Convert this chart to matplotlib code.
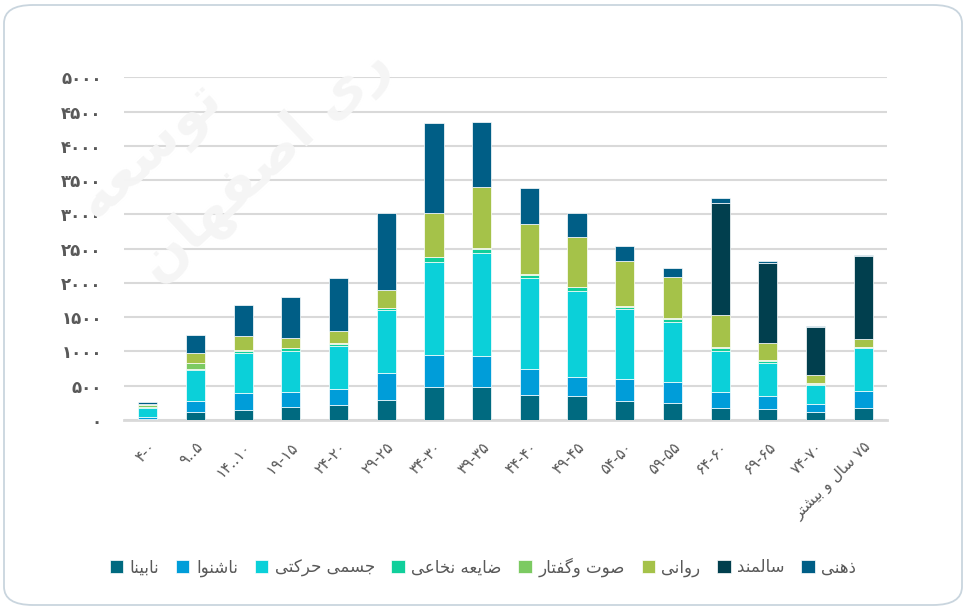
#!/usr/bin/env python3
# stacked bars of disability counts by age group

import re
import numpy as np
import matplotlib
matplotlib.use("Agg")
import matplotlib.pyplot as plt
from matplotlib.patches import FancyBboxPatch

ages = ["۴-۰", "۹..۵", "۱۴..۱۰", "۱۹-۱۵", "۲۴-۲۰", "۲۹-۲۵", "۳۴-۳۰", "۳۹-۳۵",
        "۴۴-۴۰", "۴۹-۴۵", "۵۴-۵۰", "۵۹-۵۵", "۶۴-۶۰", "۶۹-۶۵", "۷۴-۷۰",
        "۷۵ سال و بیشتر"]

nabina = [15, 122, 146, 195, 214, 292, 477, 477, 365, 350, 282, 243, 180, 165, 122, 170]
nashenva = [30, 160, 243, 219, 238, 399, 472, 457, 375, 282, 311, 307, 234, 190, 107, 248]
jesmi = [130, 448, 584, 594, 628, 915, 1349, 1508, 1328, 1255, 1022, 886, 599, 472, 282, 637]
nokhaei = [20, 10, 39, 39, 34, 24, 78, 58, 49, 49, 39, 44, 44, 39, 19, 10]
sot = [20, 97, 8, 6, 6, 5, 6, 6, 6, 5, 5, 5, 5, 5, 4, 4]
ravani = [20, 146, 204, 146, 185, 268, 633, 890, 740, 725, 667, 599, 477, 248, 127, 107]
salmand = [0, 0, 0, 0, 0, 0, 0, 0, 0, 0, 0, 0, 1630, 1168, 696, 1212]
zehni = [25, 254, 453, 589, 764, 1110, 1324, 949, 526, 355, 219, 127, 68, 39, 15, 19]

series = ["نابینا", "ناشنوا", "جسمی حرکتی", "ضایعه نخاعی", "صوت وگفتار", "روانی", "سالمند", "ذهنی"]
values = [nabina, nashenva, jesmi, nokhaei, sot, ravani, salmand, zehni]
colors = ["#006A80", "#009DD9", "#0BD0D9", "#10CF9B", "#7CCA62", "#A5C249", "#013F4E", "#005E86"]

# arabic presentation forms: isolated, final, initial, medial
FORMS = {
    "ا": "\uFE8D\uFE8E", "ب": "\uFE8F\uFE90\uFE91\uFE92", "ت": "\uFE95\uFE96\uFE97\uFE98",
    "ج": "\uFE9D\uFE9E\uFE9F\uFEA0", "ح": "\uFEA1\uFEA2\uFEA3\uFEA4", "خ": "\uFEA5\uFEA6\uFEA7\uFEA8",
    "د": "\uFEA9\uFEAA", "ذ": "\uFEAB\uFEAC", "ر": "\uFEAD\uFEAE",
    "س": "\uFEB1\uFEB2\uFEB3\uFEB4", "ش": "\uFEB5\uFEB6\uFEB7\uFEB8", "ص": "\uFEB9\uFEBA\uFEBB\uFEBC",
    "ض": "\uFEBD\uFEBE\uFEBF\uFEC0", "ع": "\uFEC9\uFECA\uFECB\uFECC", "ف": "\uFED1\uFED2\uFED3\uFED4",
    "ل": "\uFEDD\uFEDE\uFEDF\uFEE0", "م": "\uFEE1\uFEE2\uFEE3\uFEE4", "ن": "\uFEE5\uFEE6\uFEE7\uFEE8",
    "ه": "\uFEE9\uFEEA\uFEEB\uFEEC", "و": "\uFEED\uFEEE", "ی": "\uFBFC\uFBFD\uFBFE\uFBFF",
    "ک": "\uFB8E\uFB8F\uFB90\uFB91", "گ": "\uFB92\uFB93\uFB94\uFB95",
}


def shape(s):
    out = []
    for i, c in enumerate(s):
        if c not in FORMS:
            out.append(c)
            continue
        f = FORMS[c]
        prev = i > 0 and s[i - 1] in FORMS and len(FORMS[s[i - 1]]) == 4
        nxt = i + 1 < len(s) and s[i + 1] in FORMS and len(f) == 4
        if prev and nxt:
            out.append(f[3])
        elif prev:
            out.append(f[1])
        elif nxt:
            out.append(f[2])
        else:
            out.append(f[0])
    return "".join(out)


def rtl(s):
    if not any(c in FORMS for c in s):
        return s
    runs = re.findall(r"\d+|\D+", shape(s))
    return "".join(r if r[0].isdigit() else r[::-1] for r in reversed(runs))


def fa(n):
    return str(n).translate(str.maketrans("0123456789", "۰۱۲۳۴۵۶۷۸۹"))


def main():
    fig = plt.figure(figsize=(9.66, 6.1), dpi=100)
    fig.patch.set_facecolor("white")

    border = FancyBboxPatch((4 / 966, 5 / 610), 958 / 966, 600 / 610,
                            boxstyle="round,pad=0,rounding_size=0.03",
                            transform=fig.transFigure, facecolor="none",
                            edgecolor="#C9D5DE", linewidth=1.3)
    fig.patches.append(border)

    # faint watermark
    fig.text(150 / 966, 1 - 150 / 610, rtl("توسعه"), rotation=43, fontsize=40,
             color="#F5F5F5", ha="center", va="center", fontweight="bold", zorder=0)
    fig.text(265 / 966, 1 - 165 / 610, rtl("ری اصفهان"), rotation=43, fontsize=40,
             color="#F5F5F5", ha="center", va="center", fontweight="bold", zorder=0)

    ax = fig.add_axes([124 / 966, 1 - 420 / 610, 763 / 966, 342.7 / 610])
    ax.set_facecolor("none")

    x = np.arange(len(ages))
    bottom = np.zeros(len(ages))
    for name, vals, col in zip(series, values, colors):
        ax.bar(x, vals, 0.4, bottom=bottom, color=col, edgecolor="white",
               linewidth=0.5, label=rtl(name), zorder=3)
        bottom += np.array(vals)

    ax.set_xlim(-0.5, len(ages) - 0.5)
    ax.set_ylim(0, 5000)
    yt = np.arange(0, 5001, 500)
    ax.set_yticks(yt)
    ax.set_yticklabels([fa(v) for v in yt], fontsize=12, fontweight="bold", color="#595959")
    ax.yaxis.grid(True, color="#D9D9D9", linewidth=1.5, zorder=0)
    ax.tick_params(axis="y", length=0, pad=16)
    ax.tick_params(axis="x", length=0, pad=14)
    ax.set_xticks(x)
    ax.set_xticklabels([rtl(a) for a in ages], rotation=45, ha="right",
                       rotation_mode="anchor", fontsize=11, color="#595959")
    for s in ["top", "right", "left"]:
        ax.spines[s].set_visible(False)
    ax.spines["bottom"].set_color("#D9D9D9")
    ax.spines["bottom"].set_linewidth(2)

    fig.legend(loc="center", bbox_to_anchor=(0.5, 1 - 567 / 610), ncol=8,
               frameon=False, fontsize=12, labelcolor="#595959",
               handlelength=0.8, handleheight=0.8, handletextpad=0.4,
               columnspacing=1.0)

    fig.savefig("out.png", dpi=100, facecolor="white")


if __name__ == "__main__":
    main()
